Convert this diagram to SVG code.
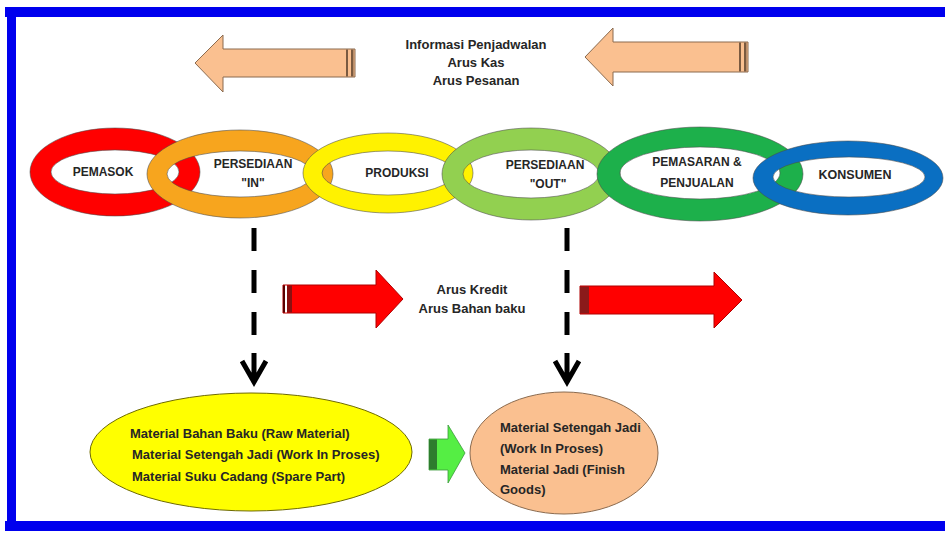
<svg xmlns="http://www.w3.org/2000/svg" width="945" height="534" viewBox="0 0 945 534">
<style>
  .t{font-family:"Liberation Sans",Arial,sans-serif;font-weight:bold;fill:#262626;font-size:12px}
  .m{font-size:13px}
  .c{text-anchor:middle}
  .ring{fill-rule:evenodd;stroke:#4a4a4a;stroke-width:0.8;stroke-opacity:0.7}
  .frame{fill:#0000EE}
  .peach{fill:#FAC090;stroke:#8B6B4F;stroke-width:1}
  .red{fill:#FF0000;stroke:#B00000;stroke-width:1}
  .dash{stroke:#000;stroke-width:5;stroke-dasharray:23 19;fill:none}
  .head{stroke:#000;stroke-width:5;fill:none;stroke-linejoin:miter}
</style>
<defs>
  <g id="dhead">
    <path class="head" d="M0,-30 V0 M-12,-22 L0,-1 L12,-22"/>
  </g>
</defs>
<rect width="945" height="534" fill="#ffffff"/>
<g id="frame">
  <rect class="frame" x="5" y="7" width="940" height="10"/>
  <rect class="frame" x="7" y="7" width="9" height="524"/>
  <rect class="frame" x="5" y="521" width="940" height="10"/>
</g>

<g id="top-flow">
  <path class="peach" d="M195,63 L223,35 L223,49 L355,49 L355,77 L223,77 L223,92 Z"/>
  <rect x="346" y="49.5" width="2" height="27" fill="#7A5A40"/>
  <rect x="351" y="49.5" width="2.5" height="27" fill="#7A5A40"/>
  <path class="peach" d="M585,57 L613,28 L613,42 L748,42 L748,72 L613,72 L613,86 Z"/>
  <rect x="739" y="42.5" width="2" height="29" fill="#7A5A40"/>
  <rect x="744" y="42.5" width="2.5" height="29" fill="#7A5A40"/>
  <text class="t m c" x="476" y="49">Informasi Penjadwalan</text>
  <text class="t m c" x="476" y="67">Arus Kas</text>
  <text class="t m c" x="476" y="85">Arus Pesanan</text>
</g>

<g id="pemasok">
  <path class="ring" fill="#FF0000" d="M30,172 a85,44 0 1,0 170,0 a85,44 0 1,0 -170,0 Z M51,172 a64,22 0 1,0 128,0 a64,22 0 1,0 -128,0 Z"/>
  <text class="t c" x="103" y="176">PEMASOK</text>
</g>
<g id="persediaan-in">
  <path class="ring" fill="#F7A51E" d="M147,174 a93,44 0 1,0 186,0 a93,44 0 1,0 -186,0 Z M167,174 a73,23 0 1,0 146,0 a73,23 0 1,0 -146,0 Z"/>
  <text class="t c" x="253" y="168">PERSEDIAAN</text>
  <text class="t c" x="253" y="187">"IN"</text>
</g>
<g id="produksi">
  <path class="ring" fill="#FFF200" d="M303,173 a85,40 0 1,0 170,0 a85,40 0 1,0 -170,0 Z M322,173 a66,22 0 1,0 132,0 a66,22 0 1,0 -132,0 Z"/>
  <text class="t c" x="397" y="177">PRODUKSI</text>
</g>
<g id="persediaan-out">
  <path class="ring" fill="#92D050" d="M442,174 a89,46 0 1,0 178,0 a89,46 0 1,0 -178,0 Z M463,174 a68,24 0 1,0 136,0 a68,24 0 1,0 -136,0 Z"/>
  <text class="t c" x="545" y="169">PERSEDIAAN</text>
  <text class="t c" x="548" y="188">"OUT"</text>
</g>
<g id="pemasaran">
  <path class="ring" fill="#1DB04B" d="M597,174 a103,47 0 1,0 206,0 a103,47 0 1,0 -206,0 Z M620,173 a80,26 0 1,0 160,0 a80,26 0 1,0 -160,0 Z"/>
  <text class="t c" x="697" y="166">PEMASARAN &amp;</text>
  <text class="t c" x="697" y="187">PENJUALAN</text>
</g>
<g id="konsumen">
  <path class="ring" fill="#0A6FC2" d="M753,178 a95,37 0 1,0 190,0 a95,37 0 1,0 -190,0 Z M773,177 a76,20 0 1,0 152,0 a76,20 0 1,0 -152,0 Z"/>
  <text class="t c" x="855" y="179" style="font-size:12.5px">KONSUMEN</text>
</g>

<g id="connectors">
  <line class="dash" x1="254" y1="228" x2="254" y2="336"/>
  <use href="#dhead" x="254" y="383"/>
  <line class="dash" x1="567" y1="228" x2="567" y2="336"/>
  <use href="#dhead" x="567" y="383"/>
</g>

<g id="mid-flow">
  <path class="red" d="M283,285 L376,285 L376,270 L403,299 L376,328 L376,313 L283,313 Z"/>
  <rect x="283" y="285.5" width="2" height="27" fill="#5A0000"/>
  <rect x="285" y="285.5" width="2" height="27" fill="#ffffff"/>
  <rect x="287" y="285.5" width="5" height="27" fill="#8B1010"/>
  <path class="red" d="M580,286 L714,286 L714,272 L742,300 L714,328 L714,314 L580,314 Z"/>
  <rect x="580" y="286.5" width="9" height="27" fill="#8B1A1A"/>
  <text class="t m c" x="472" y="294">Arus Kredit</text>
  <text class="t m c" x="472" y="313">Arus Bahan baku</text>
</g>

<g id="material-in">
  <ellipse cx="251" cy="452" rx="161" ry="59" fill="#FFFF00" stroke="#6E6A00" stroke-width="1"/>
  <text class="t m" x="130" y="438">Material Bahan Baku (Raw Material)</text>
  <text class="t m" x="132" y="459">Material Setengah Jadi (Work In Proses)</text>
  <text class="t m" x="132" y="481">Material Suku Cadang (Spare Part)</text>
</g>
<g id="green-arrow">
  <path d="M429,439 L448,439 L448,425 L465,453 L448,483 L448,470 L429,470 Z" fill="#55EE44" stroke="#3A9A3A" stroke-width="0.8"/>
  <rect x="429" y="439.5" width="8" height="30" fill="#2E7D2E"/>
</g>
<g id="material-out">
  <ellipse cx="564" cy="453" rx="94" ry="61" fill="#FAC090" stroke="#8B6B4F" stroke-width="1"/>
  <text class="t m" x="500" y="432">Material Setengah Jadi</text>
  <text class="t m" x="500" y="453">(Work In Proses)</text>
  <text class="t m" x="500" y="474">Material Jadi (Finish</text>
  <text class="t m" x="500" y="494">Goods)</text>
</g>
</svg>
